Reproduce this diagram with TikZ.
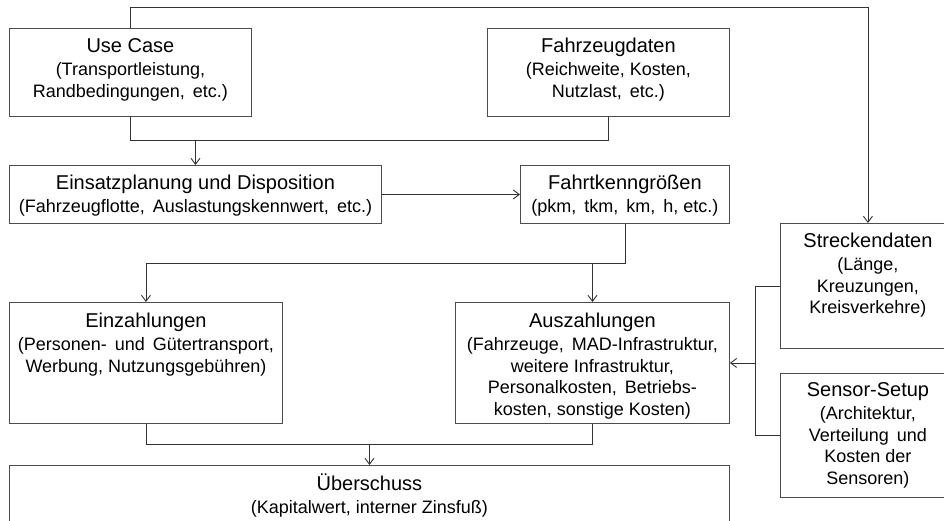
\documentclass[tikz,border=0pt]{standalone}
\usepackage{fontspec}
\setmainfont{Liberation Sans}
\usetikzlibrary{arrows.meta}
\newcommand\ttlfont{\fontsize{20}{24}\selectfont}
\newcommand\ttl[1]{{\ttlfont\rule{0pt}{19pt}#1}\\[2pt]}
\tikzset{
  box/.style={draw=black!70, line width=0.9pt, inner sep=0pt, anchor=north west, fill=white},
  txt/.style={anchor=north, align=center, inner sep=0pt, font=\fontsize{18}{21.5}\selectfont},
  conn/.style={draw=black!80, line width=0.9pt},
  arr/.style={conn, -{Straight Barb[length=6pt,width=9pt]}}
}
\begin{document}
\begin{tikzpicture}[x=1pt, y=-1pt]
\useasboundingbox (0,0) rectangle (944,521);
\clip (0,0) rectangle (944,521);
\fill[white] (0,0) rectangle (944,521);

% boxes
\node[box, minimum width=242pt, minimum height=88pt]  (uc) at (9,28)   {};
\node[box, minimum width=242pt, minimum height=88pt]  (fz) at (487,28) {};
\node[box, minimum width=372pt, minimum height=58pt]  (ep) at (9,165)  {};
\node[box, minimum width=209pt, minimum height=58pt]  (fk) at (520,165) {};
\node[box, minimum width=175pt, minimum height=125pt] (sd) at (780,223) {};
\node[box, minimum width=273pt, minimum height=121pt] (ez) at (9,302)  {};
\node[box, minimum width=274pt, minimum height=121pt] (az) at (455,302) {};
\node[box, minimum width=175pt, minimum height=124pt] (se) at (780,373) {};
\node[box, minimum width=720pt, minimum height=90pt]  (ub) at (9,465)  {};

% texts
\node[txt] (uct) at ([yshift=-5pt]uc.north) {\ttl{Use Case}(Transportleistung,\\Randbedingungen, \,etc.)};
\node[txt] (fzt) at ([yshift=-5pt]fz.north) {\ttl{Fahrzeugdaten}(Reichweite, Kosten,\\Nutzlast, \,etc.)};
\node[txt] (ept) at ([yshift=-5pt]ep.north) {\ttl{Einsatzplanung und Disposition}(Fahrzeugflotte, \,Auslastungskennwert, \,etc.)};
\node[txt] (fkt) at ([yshift=-5pt]fk.north) {\ttl{Fahrtkenngrößen}(pkm, \,tkm, \,km, \,h, etc.)};
\node[txt] (sdt) at ([yshift=-5pt]sd.north) {\ttl{Streckendaten}(Länge,\\Kreuzungen,\\Kreisverkehre)};
\node[txt] (ezt) at ([yshift=-6pt]ez.north) {\ttl{Einzahlungen}(Personen- \,und \,Gütertransport,\\Werbung, Nutzungsgebühren)};
\node[txt] (azt) at ([yshift=-6pt]az.north) {\ttl{Auszahlungen}(Fahrzeuge, \,MAD-Infrastruktur,\\weitere Infrastruktur,\\Personalkosten, \,Betriebs-\\kosten, sonstige Kosten)};
\node[txt] (set) at ([yshift=-4pt]se.north) {\ttl{Sensor-Setup}(Architektur,\\Verteilung \,und\\Kosten der\\Sensoren)};
\node[txt] (ubt) at ([yshift=-6pt]ub.north) {\ttl{Überschuss}(Kapitalwert, interner Zinsfuß)};

% junction points of the connectors
\coordinate (j1) at ([yshift=-24pt]uc.south);
\coordinate (j2) at ([yshift=-40pt]fk.south);
\coordinate (j3) at ([yshift=-21pt]ez.south);
\coordinate (j4) at ([xshift=-25pt]sd.west);

% connectors
\draw[arr]  (uc.north) -- ++(0,-21) -| (sd.north);
\draw[conn] (uc.south) -- (j1) -| (fz.south);
\draw[arr]  (ep.north |- j1) -- (ep.north);
\draw[arr]  (ep.east) -- (fk.west);
\draw[arr]  (fk.south) -- (j2) -| (ez.north);
\draw[arr]  (az.north |- j2) -- (az.north);
\draw[conn] (ez.south) -- (j3) -| (az.south);
\draw[arr]  (ub.north |- j3) -- (ub.north);
\draw[conn] (sd.west) -- (j4) |- (se.west);
\draw[arr]  (j4 |- az.east) -- (az.east);
\end{tikzpicture}
\end{document}
